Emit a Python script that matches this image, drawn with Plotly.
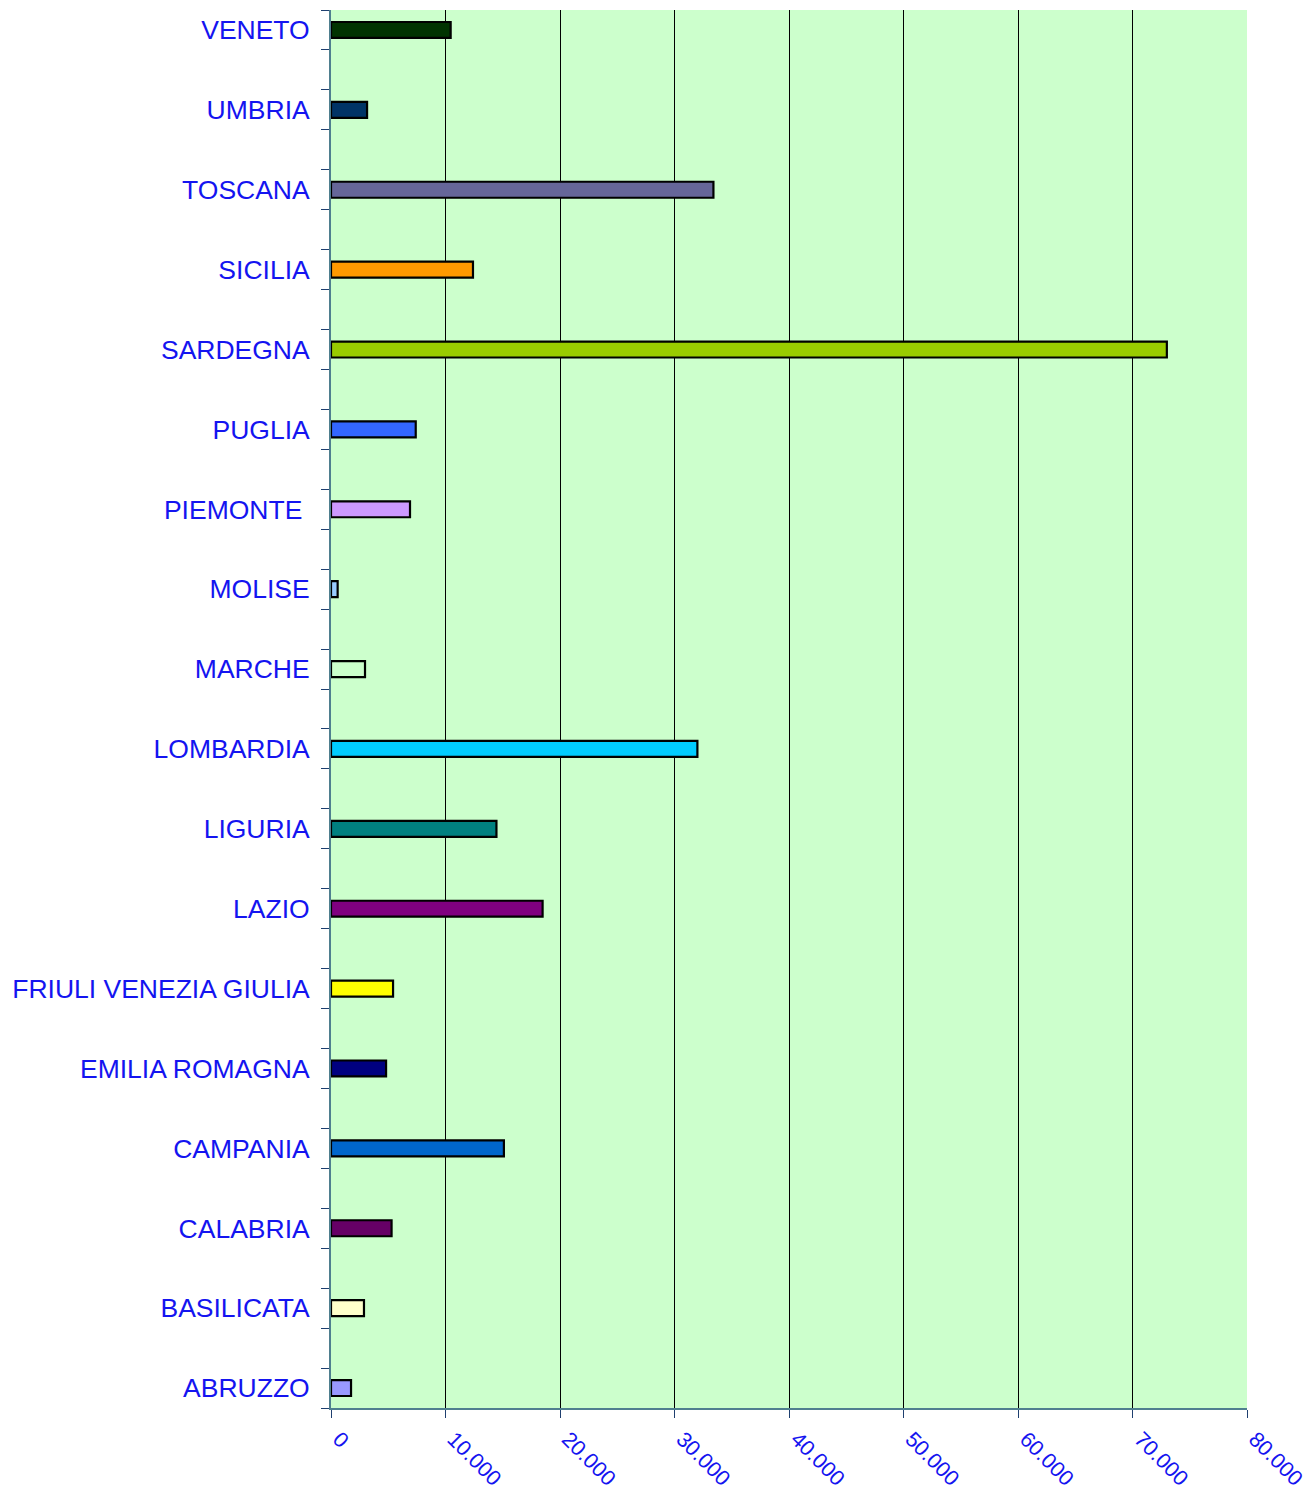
import plotly.graph_objects as go

# regions from bottom (ABRUZZO) to top (VENETO)
regions = [
    "ABRUZZO", "BASILICATA", "CALABRIA", "CAMPANIA", "EMILIA ROMAGNA",
    "FRIULI VENEZIA GIULIA", "LAZIO", "LIGURIA", "LOMBARDIA", "MARCHE",
    "MOLISE", "PIEMONTE ", "PUGLIA", "SARDEGNA", "SICILIA", "TOSCANA",
    "UMBRIA", "VENETO",
]
values = [
    1750, 2880, 5290, 15100, 4810,
    5420, 18480, 14450, 32000, 2970,
    580, 6900, 7400, 73000, 12400, 33400,
    3150, 10450,
]
colors = [
    "#9999FF", "#FFFFCC", "#660066", "#0066CC", "#000080",
    "#FFFF00", "#800080", "#008080", "#00CCFF", "#CCFFCC",
    "#99CCFF", "#CC99FF", "#3366FF", "#99CC00", "#FF9900", "#666699",
    "#003366", "#003300",
]
x_ticks = [0, 10000, 20000, 30000, 40000, 50000, 60000, 70000, 80000]

positions = list(range(len(regions)))

fig = go.Figure()

fig.add_trace(
    go.Bar(
        x=values,
        y=positions,
        orientation="h",
        width=0.2,
        marker=dict(color=colors, line=dict(color="#000000", width=2.2)),
        showlegend=False,
    )
)

fig.update_layout(
    width=1315,
    height=1495,
    margin=dict(l=323, r=76, t=2, b=95),
    paper_bgcolor="#FFFFFF",
    plot_bgcolor="#CCFFCC",
    separators=",.",
    font=dict(family="Liberation Sans, Arial, sans-serif", color="#1414F0"),
)

fig.update_xaxes(
    range=[0, 80000],
    tickvals=x_ticks,
    tickformat=",d",
    tickangle=45,
    tickfont=dict(size=21.5, color="#1414F0"),
    ticks="outside",
    ticklen=8,
    tickcolor="#1F3F6F",
    ticklabelshift=8,
    ticklabelstandoff=0,
    showgrid=True,
    gridcolor="#000000",
    gridwidth=1,
    showline=True,
    linecolor="#4F7F8F",
    linewidth=2,
    zeroline=False,
)

fig.update_yaxes(
    range=[-0.25, 17.25],
    tickvals=positions,
    ticktext=regions,
    tickfont=dict(size=26.5, color="#1414F0"),
    ticks="",
    ticklabelstandoff=14,
    showgrid=False,
    showline=True,
    linecolor="#4F7F8F",
    linewidth=2,
    zeroline=False,
    minor=dict(
        tickmode="linear",
        tick0=0.25,
        dtick=0.5,
        ticks="outside",
        ticklen=8,
        tickcolor="#1F3F6F",
        showgrid=False,
    ),
)

fig.write_html("out.html")
